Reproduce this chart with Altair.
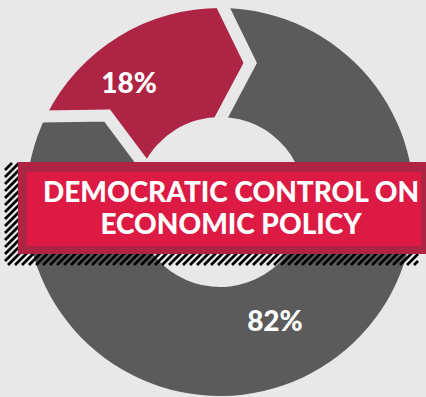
import math
import numpy as np
import pandas as pd
import altair as alt

# Ring shares, clockwise from the arrow tip near 12 o'clock
groups = ["Democratic control", "Other"]
shares = [18, 82]
share_labels = ["18%", "82%"]
banner_lines = ["DEMOCRATIC CONTROL ON", "ECONOMIC POLICY"]

# Canvas and palette
W, H = 426, 397
BG = "#e8e8e8"
SLICE_COLORS = ["#ad2444", "#5b5b5b"]
FRAME_COLOR = "#ad2444"
BANNER_COLOR = "#dc1a43"
FONT = "Lato"

# Ring geometry, in pixels
CX, CY = 220, 202
R_OUT, R_IN = 194, 85
R_MID = (R_OUT + R_IN) / 2
FIRST_END = math.radians(1.0)   # where the first slice ends
TIP = 0.51                      # arrow depth, relative to half the ring width
GAP = 12                        # white-space cut between slices
LABEL_R = 140
LABEL_DX, LABEL_DY = -18, 2

# Banner and its hatched shadow, in pixels
FRAME_BOX = (18, 162, 426, 254)
BANNER_BOX = (27, 172, 421, 246)
HATCH_BOX = (5, 163, 418, 265)
HATCH_STEP = 7
TEXT_X = 231
TEXT_BASELINES = [202, 233.5]

total = float(sum(shares))
start = FIRST_END - 2 * math.pi * shares[0] / total
theta_scale = alt.Scale(domain=[0, total], range=[start, start + 2 * math.pi])

ring = pd.DataFrame({
    "group": groups,
    "share": shares,
    "label": share_labels,
    "rank": list(range(len(groups))),
})
# each slice ends in an arrow head pointing clockwise
end = start + 2 * math.pi * ring["share"].cumsum() / total
ring["ux"] = np.sin(end) * R_MID / R_OUT
ring["uy"] = np.cos(end) * R_MID / R_OUT
ring["deg"] = np.degrees(end) % 360

# unit-circle coordinates mapped onto the ring's pixel box
xs = alt.Scale(domain=[-1, 1], range=[CX - R_OUT, CX + R_OUT])
ys = alt.Scale(domain=[-1, 1], range=[CY + R_OUT, CY - R_OUT])
color_enc = alt.Color("group:N", scale=alt.Scale(domain=groups, range=SLICE_COLORS), legend=None)
theta_enc = alt.Theta("share:Q", stack=True, scale=theta_scale)

# arrow head (overlaps its own slice a little so no seam shows)
TIP_PATH = f"M-0.06,-1L{TIP},0L-0.06,1Z"
ext = 0.35
GAP_PATH = f"M{-ext * TIP:.3f},{-1 - ext}L{TIP},0L{-ext * TIP:.3f},{1 + ext}"
HEAD_SIZE = (R_OUT - R_IN) ** 2

base = alt.Chart(ring)

arcs = base.mark_arc(radius=R_OUT, radius2=R_IN).encode(
    theta=theta_enc,
    order=alt.Order("rank:Q"),
    color=color_enc,
    x=alt.value(CX),
    y=alt.value(CY),
)

heads = base.mark_point(
    shape=TIP_PATH, filled=True, opacity=1, size=HEAD_SIZE, strokeWidth=0
).encode(
    x=alt.X("ux:Q", scale=xs, axis=None),
    y=alt.Y("uy:Q", scale=ys, axis=None),
    angle=alt.Angle("deg:Q", scale=None),
    color=color_enc,
)

cuts = base.mark_point(
    shape=GAP_PATH, filled=False, opacity=1, size=HEAD_SIZE,
    strokeWidth=GAP, strokeJoin="miter", strokeCap="butt",
).encode(
    x=alt.X("ux:Q", scale=xs, axis=None),
    y=alt.Y("uy:Q", scale=ys, axis=None),
    angle=alt.Angle("deg:Q", scale=None),
    color=alt.value(BG),
)

labels = base.mark_text(
    radius=LABEL_R, font=FONT, fontSize=28, fontWeight=900,
    color="white", align="center", baseline="middle",
    dx=LABEL_DX, dy=LABEL_DY,
).encode(
    theta=theta_enc,
    order=alt.Order("rank:Q"),
    text="label:N",
    x=alt.value(CX),
    y=alt.value(CY),
)

# diagonal hatch lines clipped to the shadow box
hx0, hy0, hx1, hy1 = HATCH_BOX
segs = []
for c in np.arange(hx0 + hy0, hx1 + hy1, HATCH_STEP):
    lo = max(hx0, c - hy1)
    hi = min(hx1, c - hy0)
    if hi > lo:
        segs.append((lo, c - lo, hi, c - hi))
hatch_df = pd.DataFrame(segs, columns=["px", "py", "px2", "py2"])
hatch_df["ux"] = (hatch_df["px"] - CX) / R_OUT
hatch_df["uy"] = (CY - hatch_df["py"]) / R_OUT
hatch_df["ux2"] = (hatch_df["px2"] - CX) / R_OUT
hatch_df["uy2"] = (CY - hatch_df["py2"]) / R_OUT

hatch = alt.Chart(hatch_df).mark_rule(color="black", strokeWidth=2.6, strokeCap="butt").encode(
    x=alt.X("ux:Q", scale=xs, axis=None),
    y=alt.Y("uy:Q", scale=ys, axis=None),
    x2="ux2:Q",
    y2="uy2:Q",
)

one = pd.DataFrame({"k": [0]})


def box(b, color):
    return alt.Chart(one).mark_rect(color=color).encode(
        x=alt.value(b[0]), y=alt.value(b[1]), x2=alt.value(b[2]), y2=alt.value(b[3])
    )


banner_text = [
    alt.Chart(pd.DataFrame({"line": [t]})).mark_text(
        font=FONT, fontSize=28, fontWeight=900, color="white",
        align="center", baseline="alphabetic",
    ).encode(text="line:N", x=alt.value(TEXT_X), y=alt.value(yb))
    for t, yb in zip(banner_lines, TEXT_BASELINES)
]

chart = alt.layer(
    arcs, heads, cuts, hatch,
    box(FRAME_BOX, FRAME_COLOR), box(BANNER_BOX, BANNER_COLOR),
    *banner_text, labels,
).properties(
    width=W, height=H, background=BG, padding=0,
    autosize=alt.AutoSizeParams(type="none"),
).configure_view(stroke=None)

chart.save("out.html", embed_options={"renderer": "svg", "actions": False})
